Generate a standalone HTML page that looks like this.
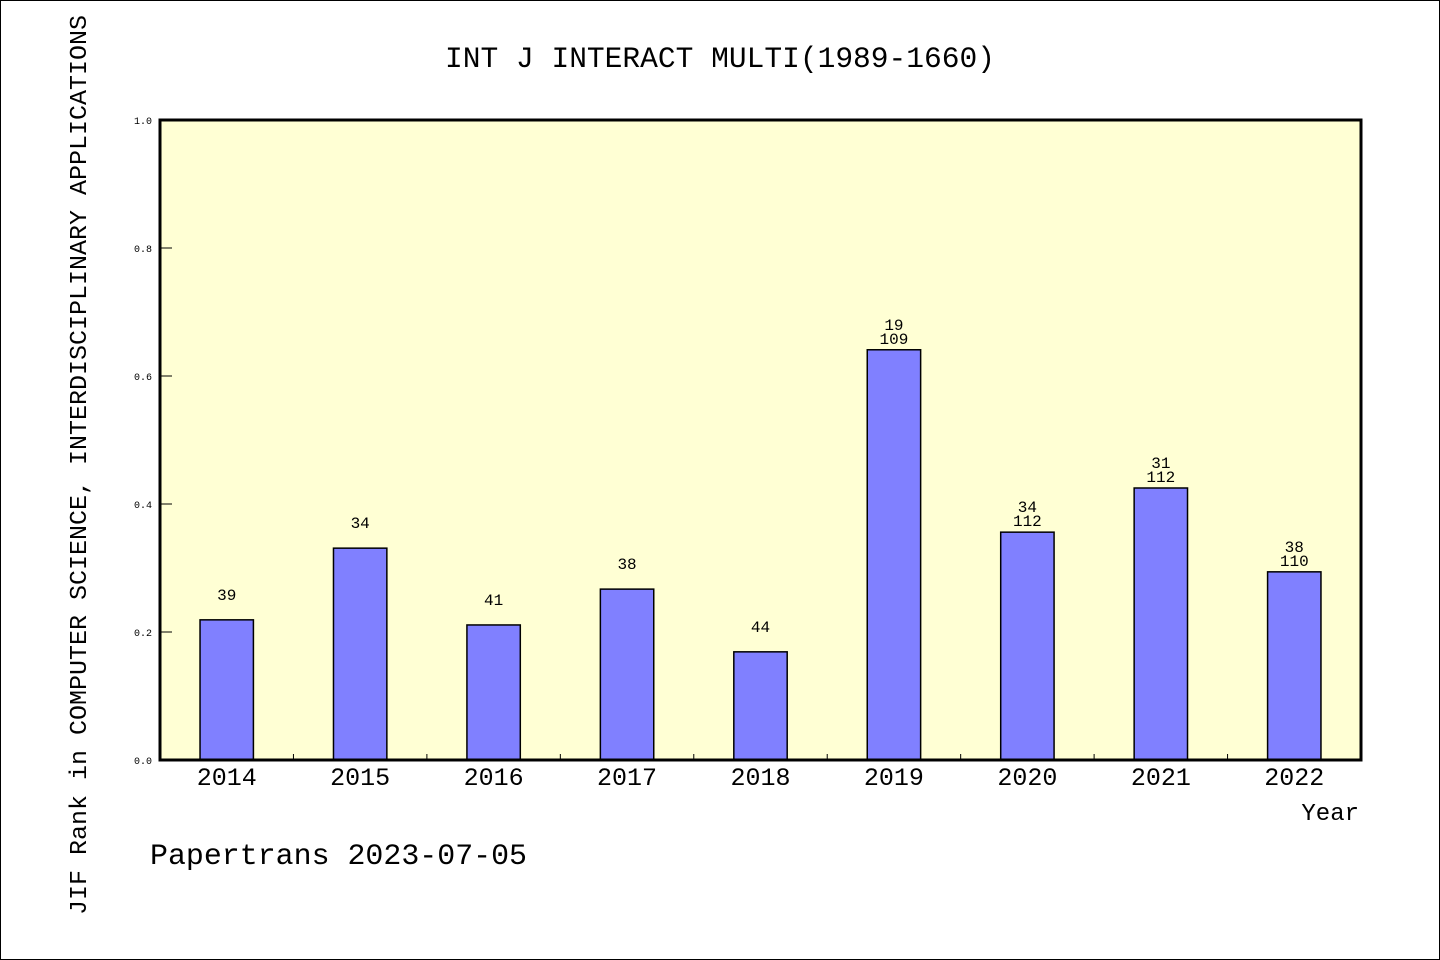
<!DOCTYPE html>
<html><head><meta charset="utf-8"><style>
html,body{margin:0;padding:0;background:#fff;}
svg{display:block;}
text{font-family:"Liberation Mono","Noto Sans CJK SC",monospace;fill:#000;}
</style></head><body>
<svg id="chart" width="1440" height="960" viewBox="0 0 1440 960" xmlns="http://www.w3.org/2000/svg">
<rect x="0.5" y="0.5" width="1439" height="959" fill="#fff" stroke="#000" stroke-width="1"/>
<rect x="160" y="120" width="1201" height="640" fill="#ffffd4"/>
<g id="bars"></g>
<g id="ticks"></g>
<rect x="160" y="120" width="1201" height="640" fill="none" stroke="#000" stroke-width="3"/>
<text x="445" y="67" font-size="30" textLength="550" lengthAdjust="spacingAndGlyphs">INT J INTERACT MULTI(1989-1660)</text>
<text transform="translate(86,915) rotate(-90)" font-size="24" textLength="900" lengthAdjust="spacingAndGlyphs">JIF Rank in COMPUTER SCIENCE, INTERDISCIPLINARY APPLICATIONS</text>
<text x="1359" y="820" font-size="24" text-anchor="end">Year</text>
<text x="150" y="864" font-size="30" textLength="377" lengthAdjust="spacingAndGlyphs">Papertrans 2023-07-05</text>
</svg>
<script>
const years = ["2014","2015","2016","2017","2018","2019","2020","2021","2022"];
const values = [0.219, 0.331, 0.211, 0.267, 0.169, 0.641, 0.356, 0.425, 0.294];
const rankLabels = ["39","34","41","38","44","19","34","31","38"];
const totalLabels = ["","","","","","109","112","112","110"];
const yTicks = [0, 0.2, 0.4, 0.6, 0.8, 1.0];
const yTickLabels = ["0.0","0.2","0.4","0.6","0.8","1.0"];

const X0 = 160, X1 = 1361, Y0 = 760, Y1 = 120;
const band = (X1 - X0) / years.length;
const xc = i => X0 + band * (i + 0.5);
const ys = v => Y0 - (Y0 - Y1) * v;
const NS = "http://www.w3.org/2000/svg";
const mk = (tag, attrs, parent) => { const e = document.createElementNS(NS, tag); for (const k in attrs) e.setAttribute(k, attrs[k]); parent.appendChild(e); return e; };
const gB = document.getElementById("bars"), gT = document.getElementById("ticks");
const bw = band * 0.4;

years.forEach((yr, i) => {
  const top = ys(values[i]);
  const r = mk("rect", {x: xc(i) - bw/2, y: top, width: bw, height: Y0 - top, fill: "#8080ff", stroke: "#000", "stroke-width": 1.5}, gB);
  
  
  const t1 = mk("text", {x: xc(i), y: top - 20, "font-size": 16, "text-anchor": "middle"}, gB);
  t1.textContent = rankLabels[i];
  
  
  if (totalLabels[i]) {
    const t2 = mk("text", {x: xc(i), y: top - 6, "font-size": 16, "text-anchor": "middle"}, gB);
    t2.textContent = totalLabels[i];
    
    
  }
  const xl = mk("text", {x: xc(i), y: 785, "font-size": 25, "text-anchor": "middle"}, gT);
  xl.textContent = yr;
  
  
  if (i > 0) {
    const tk = mk("line", {x1: X0 + band*i, x2: X0 + band*i, y1: Y0, y2: Y0 - 6, stroke: "#000", "stroke-width": 1}, gT);
    
    
  }
});
yTicks.forEach((v, i) => {
  const tk = mk("line", {x1: X0, x2: X0 + 12, y1: ys(v), y2: ys(v), stroke: "#000", "stroke-width": 1}, gT);
  
  
  const tl = mk("text", {x: 152, y: ys(v) + 4, "font-size": 10, "text-anchor": "end"}, gT);
  tl.textContent = yTickLabels[i];
  
  
});
</script>
</body></html>
